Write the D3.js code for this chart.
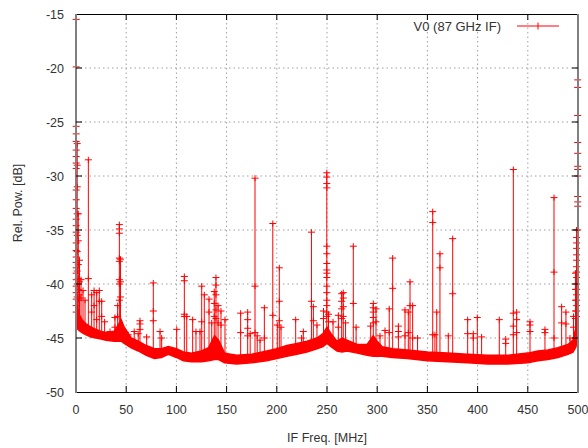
<!DOCTYPE html>
<html>
<head>
<meta charset="utf-8">
<script src="https://cdn.jsdelivr.net/npm/d3@7"></script>
<style>
  body { margin: 0; background: #fff; }
  svg text { font-family: "Liberation Sans", Arial, sans-serif; fill: #333; }
</style>
</head>
<body>
<div class="spectrum"></div>
<script>
// noise floor band (lower and upper edge), dB
const floorFreq = [0, 1, 3, 6, 10, 15, 20, 25, 30, 38, 42, 45, 48, 55, 62, 70, 78, 85, 92, 100, 107, 115, 125, 132, 138, 142, 148, 160, 175, 190, 200, 210, 220, 230, 240, 246, 250, 254, 260, 265, 270, 280, 290, 296, 300, 305, 315, 330, 350, 370, 390, 410, 430, 450, 460, 470, 480, 490, 495, 498, 500];
const floorLow = [-43.9, -44.1, -44.3, -44.5, -44.7, -44.9, -45.0, -45.1, -45.2, -45.3, -45.3, -45.3, -45.5, -45.9, -46.2, -46.6, -46.9, -46.8, -46.5, -46.8, -47.1, -47.2, -47.2, -47.1, -47.0, -47.0, -47.3, -47.4, -47.3, -47.1, -46.9, -46.7, -46.5, -46.3, -46.0, -45.8, -45.5, -45.8, -46.2, -46.3, -46.2, -46.4, -46.6, -46.7, -46.7, -46.7, -46.8, -46.9, -47.1, -47.2, -47.3, -47.4, -47.4, -47.3, -47.1, -47.0, -46.8, -46.5, -46.3, -45.8, -44.5];
const floorHigh = [-41.0, -42.0, -42.8, -43.3, -43.7, -44.0, -44.2, -44.4, -44.5, -44.4, -43.8, -43.3, -44.0, -45.0, -45.3, -45.7, -46.0, -46.0, -45.8, -46.0, -46.3, -46.4, -46.2, -45.9, -44.8, -45.2, -46.4, -46.6, -46.5, -46.2, -46.0, -45.7, -45.5, -45.3, -45.0, -44.6, -44.0, -44.6, -45.3, -45.0, -45.2, -45.6, -45.6, -44.8, -45.3, -45.8, -46.0, -46.1, -46.3, -46.4, -46.5, -46.6, -46.6, -46.4, -46.2, -46.1, -45.9, -45.6, -45.2, -44.0, -42.0];

// spurs: frequency [MHz], peak [dB], other samples on the same spur [dB]
const spikeFreq = [0.2, 1.2, 2.3, 3.5, 5.0, 7.0, 9.0, 12.3, 15.6, 18.0, 20.6, 23.2, 25.6, 28.5, 33.9, 36.5, 38.8, 41.5, 43.2, 44.3, 47.1, 52.0, 58.0, 62.0, 63.7, 70.4, 77.0, 83.7, 85.3, 100.3, 107.9, 110.3, 116.2, 119.5, 123.5, 125.2, 127.8, 132.5, 135.2, 137.7, 139.4, 141.5, 144.4, 148.4, 164.0, 171.0, 173.5, 178.3, 180.5, 183.3, 187.6, 196.0, 200.5, 202.5, 204.2, 218.8, 224.7, 226.4, 234.5, 236.4, 240.0, 246.5, 249.8, 251.5, 256.0, 261.3, 264.6, 266.2, 268.5, 276.2, 279.0, 293.5, 296.1, 298.8, 302.8, 307.8, 312.0, 315.4, 321.1, 327.7, 331.0, 332.7, 335.3, 340.2, 355.3, 357.5, 359.3, 362.5, 370.8, 375.2, 390.1, 395.7, 399.7, 404.0, 421.6, 428.0, 435.6, 438.9, 452.2, 467.1, 476.1, 483.7, 488.0, 492.0, 495.5, 497.5, 498.6, 499.7];
const spikePeak = [-15.5, -27.0, -33.5, -37.8, -39.6, -40.6, -41.5, -28.5, -41.0, -40.6, -40.8, -40.6, -41.6, -43.5, -44.4, -44.6, -43.1, -42.0, -34.5, -37.7, -44.6, -44.7, -44.4, -44.6, -43.4, -44.9, -39.9, -44.4, -45.0, -44.2, -39.3, -43.0, -43.3, -44.4, -44.4, -40.2, -41.0, -41.4, -43.6, -40.7, -39.4, -42.0, -42.5, -43.3, -42.7, -42.6, -44.6, -30.2, -44.8, -45.2, -42.2, -34.4, -43.8, -38.5, -44.0, -43.3, -45.0, -44.4, -35.2, -42.1, -43.8, -42.5, -29.7, -42.8, -43.5, -42.9, -40.9, -40.8, -43.6, -36.5, -44.0, -43.9, -41.8, -42.3, -44.8, -44.3, -42.3, -37.6, -43.9, -42.4, -42.6, -39.8, -42.0, -45.0, -33.3, -44.7, -42.6, -37.2, -44.8, -35.8, -43.3, -44.6, -43.1, -44.9, -43.3, -45.1, -29.4, -42.6, -43.5, -44.2, -32.0, -42.1, -42.6, -45.0, -43.0, -39.0, -35.0, -21.1];
const spikeMarks = [
  [-19.9, -25.4, -26.1, -26.8, -27.6, -28.2, -28.8, -29.3, -31.3, -32.2, -33.0, -34.0, -34.6, -35.2, -36.2, -36.9, -37.5, -38.0, -38.5, -39.0, -39.6, -40.2, -40.8, -41.4, -42.0, -42.6],
  [-29.0, -31.0, -33.5, -35.5, -37.0, -38.8, -40.0, -41.2],
  [-36.0, -38.2, -39.5, -40.5, -41.5],
  [-39.8, -41.0], [-41.3], [], [], [-39.5], [-42.6], [-42.0], [-43.3], [-41.6], [-43.0], [], [], [], [-44.0], [-43.0],
  [-34.9, -35.3, -37.6, -37.9, -39.6, -40.0, -41.5],
  [-39.8, -41.2], [], [], [], [], [-43.7, -44.2], [], [-42.5, -43.4], [], [], [],
  [-39.7, -42.8, -43.0], [], [], [], [], [-43.5], [], [-42.6], [], [-41.8, -43.0], [-40.1, -41.0, -42.4, -43.2], [-43.6], [-43.8], [],
  [-44.5], [-43.3, -44.1, -44.8], [], [-40.2, -44.5], [], [], [-45.0], [-42.9], [], [-41.6, -43.4], [], [], [], [],
  [-41.6], [-43.4], [], [-43.2],
  [-30.1, -30.7, -31.1, -36.5, -37.2, -38.1, -38.7, -39.0, -39.4, -40.2, -40.8, -41.5, -42.0, -42.6, -43.0],
  [-43.5], [], [-44.0], [-41.6, -42.3, -43.2], [-41.3, -42.1, -43.0], [], [-41.8], [], [],
  [-42.2, -42.6, -43.1, -43.6], [-43.5], [], [], [-44.5], [-40.4], [-44.4, -44.9], [-44.8], [-44.5], [-42.0], [-45.0], [],
  [-34.3, -44.7], [], [], [-38.5], [], [-40.9], [-44.6], [-45.0], [], [], [], [-45.5],
  [-42.7, -43.9, -44.7], [-43.3, -44.5], [-43.8, -44.4], [-44.5], [-38.9, -45.0], [-43.6], [-43.7], [], [-44.0],
  [-40.5, -41.5, -42.5, -43.2],
  [-35.7, -36.2, -36.7, -37.3, -37.8, -38.4, -38.9, -39.4, -40.0, -40.5, -41.0, -41.5, -42.0, -42.5, -43.0],
  [-21.8, -24.4, -26.9, -27.9, -29.1, -29.4, -30.0, -31.9, -32.4, -32.8, -35.0]
];

const xTicks = [0, 50, 100, 150, 200, 250, 300, 350, 400, 450, 500];
const yTicks = [-50, -45, -40, -35, -30, -25, -20, -15];
const seriesName = 'V0 (87 GHz IF)';

const width = 588;
const height = 448;
const plotLeft = 76, plotRight = 578, plotTop = 14, plotBottom = 392;
const red = '#ff0000';

const svg = d3.select('.spectrum')
    .append('svg')
    .attr('width', width)
    .attr('height', height)

const x = d3.scaleLinear().domain([0, 500]).range([plotLeft, plotRight]);
const y = d3.scaleLinear().domain([-50, -15]).range([plotBottom, plotTop]);
const floorAt = d3.scaleLinear().domain(floorFreq).range(floorHigh);

// grid
svg.selectAll('.gx')
    .data(xTicks.slice(1, -1))
    .enter()
    .append('line')
    .attr('x1', d => x(d)).attr('x2', d => x(d))
    .attr('y1', plotTop).attr('y2', plotBottom)
    .attr('stroke', '#a0a0a0')
    .attr('stroke-dasharray', '1.5,3')
svg.selectAll('.gy')
    .data(yTicks.slice(1, -1))
    .enter()
    .append('line')
    .attr('x1', plotLeft).attr('x2', plotRight)
    .attr('y1', d => y(d)).attr('y2', d => y(d))
    .attr('stroke', '#a0a0a0')
    .attr('stroke-dasharray', '1.5,3')

// noise floor
const band = floorFreq.map((f, i) => ({ f: f, lo: floorLow[i], hi: floorHigh[i] }));
svg.append('path')
    .datum(band)
    .attr('d', d3.area().x(d => x(d.f)).y0(d => y(d.lo)).y1(d => y(d.hi)))
    .attr('fill', red)
    .attr('stroke', red)
    .attr('stroke-width', 1.5)

// spurs
const spikes = spikeFreq.map((f, i) => ({ f: f, peak: spikePeak[i], marks: spikeMarks[i] }));
svg.selectAll('.spike')
    .data(spikes)
    .enter()
    .append('line')
    .attr('x1', d => x(d.f)).attr('x2', d => x(d.f))
    .attr('y1', d => y(d.peak))
    .attr('y2', d => y(floorAt(d.f)) + 2)
    .attr('stroke', red)
    .attr('stroke-width', 1)

const points = [];
spikes.forEach(d => {
    points.push({ f: d.f, v: d.peak });
    d.marks.forEach(m => points.push({ f: d.f, v: m }));
})
svg.selectAll('.pt')
    .data(points)
    .enter()
    .append('path')
    .attr('d', 'M-3.5,0H3.5M0,-3V3')
    .attr('transform', d => `translate(${x(d.f)},${y(d.v)})`)
    .attr('stroke', red)
    .attr('stroke-width', 1)
    .attr('fill', 'none')

// border
svg.append('line').attr('x1', plotLeft).attr('x2', plotRight).attr('y1', plotTop + 0.5).attr('y2', plotTop + 0.5).attr('stroke', '#000')
svg.append('line').attr('x1', plotLeft).attr('x2', plotRight).attr('y1', plotBottom + 0.5).attr('y2', plotBottom + 0.5).attr('stroke', '#000')
svg.append('line').attr('x1', plotLeft).attr('x2', plotLeft).attr('y1', plotTop).attr('y2', plotBottom + 1).attr('stroke', '#808080').attr('stroke-width', 2)
svg.append('line').attr('x1', plotRight).attr('x2', plotRight).attr('y1', plotTop).attr('y2', plotBottom + 1).attr('stroke', '#808080').attr('stroke-width', 2)

// ticks (inside, mirrored)
xTicks.slice(1, -1).forEach(t => {
    svg.append('line').attr('x1', x(t)).attr('x2', x(t)).attr('y1', plotBottom).attr('y2', plotBottom - 6).attr('stroke', '#000')
    svg.append('line').attr('x1', x(t)).attr('x2', x(t)).attr('y1', plotTop).attr('y2', plotTop + 6).attr('stroke', '#000')
})
yTicks.slice(1, -1).forEach(t => {
    svg.append('line').attr('x1', plotLeft).attr('x2', plotLeft + 6).attr('y1', y(t)).attr('y2', y(t)).attr('stroke', '#000')
    svg.append('line').attr('x1', plotRight).attr('x2', plotRight - 6).attr('y1', y(t)).attr('y2', y(t)).attr('stroke', '#000')
})

// tick labels
svg.selectAll('.xl')
    .data(xTicks)
    .enter()
    .append('text')
    .attr('x', d => x(d))
    .attr('y', 414)
    .attr('text-anchor', 'middle')
    .attr('font-size', 12.5)
    .text(d => d)
svg.selectAll('.yl')
    .data(yTicks)
    .enter()
    .append('text')
    .attr('x', 64)
    .attr('y', d => y(d) + 4.5)
    .attr('text-anchor', 'end')
    .attr('font-size', 12.5)
    .text(d => d)

// axis titles
svg.append('text')
    .attr('x', 327).attr('y', 442)
    .attr('text-anchor', 'middle')
    .attr('font-size', 12.5)
    .text('IF Freq. [MHz]')
svg.append('text')
    .attr('transform', 'translate(22,203) rotate(-90)')
    .attr('text-anchor', 'middle')
    .attr('font-size', 12.5)
    .text('Rel. Pow. [dB]')

// legend
svg.append('text')
    .attr('x', 501).attr('y', 31)
    .attr('text-anchor', 'end')
    .attr('font-size', 13)
    .text(seriesName)
svg.append('line').attr('x1', 517).attr('x2', 559).attr('y1', 26).attr('y2', 26).attr('stroke', red)
svg.append('path').attr('d', 'M538,22.5V29.5').attr('stroke', red)
</script>
</body>
</html>
